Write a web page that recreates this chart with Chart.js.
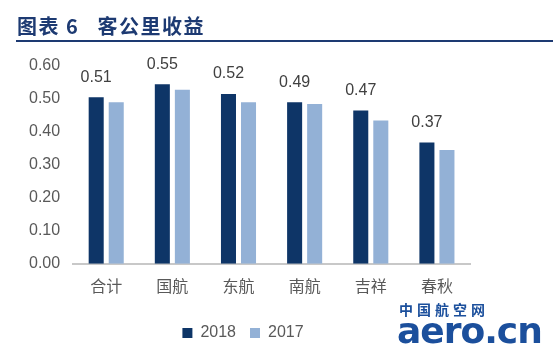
<!DOCTYPE html>
<html>
<head>
<meta charset="utf-8">
<script src="https://cdn.jsdelivr.net/npm/chart.js@4"></script>
<style>
  html, body { margin: 0; padding: 0; background: #fff; }
  #wrap { position: relative; width: 553px; height: 351px; overflow: hidden; }
  #title { position: absolute; left: 17px; top: 11px; font: bold 20px "Noto Sans CJK SC", sans-serif; color: #1d3a72; letter-spacing: 1.5px; white-space: pre; }
  #rule { position: absolute; left: 16px; right: 0; top: 40px; height: 2px; background: #1d3a72; }
  #logo1 { position: absolute; left: 399px; top: 299px; font: bold 14px "Noto Sans CJK SC", sans-serif; color: #1b4f9c; letter-spacing: 4px; }
  #logo2 { position: absolute; left: 397px; top: 310px; font: bold 36px "DejaVu Sans", sans-serif; color: #1b4f9c; letter-spacing: -1px; }
  canvas { position: absolute; left: 0; top: 0; }
</style>
</head>
<body>
<div id="wrap">
  <canvas id="barChart" width="553" height="351"></canvas>
  <div id="title">图表 6   客公里收益</div>
  <div id="rule"></div>
  <div id="logo1">中国航空网</div>
  <div id="logo2">aero.cn</div>
</div>
<script>
// data
const categories = ["合计", "国航", "东航", "南航", "吉祥", "春秋"];
const values2018 = [0.505, 0.545, 0.515, 0.49, 0.465, 0.368];
const values2017 = [0.49, 0.528, 0.49, 0.485, 0.435, 0.345];
const labels2018 = ["0.51", "0.55", "0.52", "0.49", "0.47", "0.37"];
const yTicks = [0, 0.1, 0.2, 0.3, 0.4, 0.5, 0.6];

const textColor = "#595959";
const fontFamily = "'Liberation Sans', 'Noto Sans CJK SC', sans-serif";

// draw value labels above the 2018 bars
const valueLabels = {
  id: "valueLabels",
  afterDatasetsDraw(chart) {
    const c = chart.ctx;
    const meta = chart.getDatasetMeta(0);
    c.save();
    c.font = "16px " + fontFamily;
    c.fillStyle = "#404040";
    c.textAlign = "center";
    c.textBaseline = "bottom";
    meta.data.forEach((bar, i) => {
      c.fillText(labels2018[i], bar.x, bar.y - 12);
    });
    c.restore();
  }
};

const ctx = document.getElementById("barChart").getContext("2d");
const barChart = new Chart(ctx, {
  type: "bar",
  data: {
    labels: categories,
    datasets: [
      {
        label: "2018",
        data: values2018,
        backgroundColor: "#0e3567",
        categoryPercentage: 0.606,
        barPercentage: 0.75,
      },
      {
        label: "2017",
        data: values2017,
        backgroundColor: "#93b1d6",
        categoryPercentage: 0.606,
        barPercentage: 0.75,
      },
    ],
  },
  options: {
    responsive: false,
    animation: false,
    layout: {
      padding: { top: 66, left: 16, right: 83, bottom: 0 },
    },
    scales: {
      x: {
        grid: { display: false, drawTicks: false },
        border: { display: true, color: "#c8c8c8", width: 2 },
        ticks: { color: textColor, font: { size: 16, family: fontFamily }, padding: 14 },
      },
      y: {
        min: 0,
        max: 0.6,
        afterBuildTicks: (axis) => {
          axis.ticks = yTicks.map(v => ({ value: v }));
        },
        grid: { display: false, drawTicks: false },
        border: { display: false },
        ticks: {
          color: textColor,
          font: { size: 16, family: fontFamily },
          padding: 13,
          callback: (v) => Number(v).toFixed(2),
        },
      },
    },
    plugins: {
      tooltip: { enabled: false },
      legend: {
        position: "bottom",
        labels: {
          color: textColor,
          font: { size: 16, family: fontFamily },
          boxWidth: 10,
          boxHeight: 10,
          padding: 14,
        },
      },
    },
  },
  plugins: [valueLabels],
});
</script>
</body>
</html>
